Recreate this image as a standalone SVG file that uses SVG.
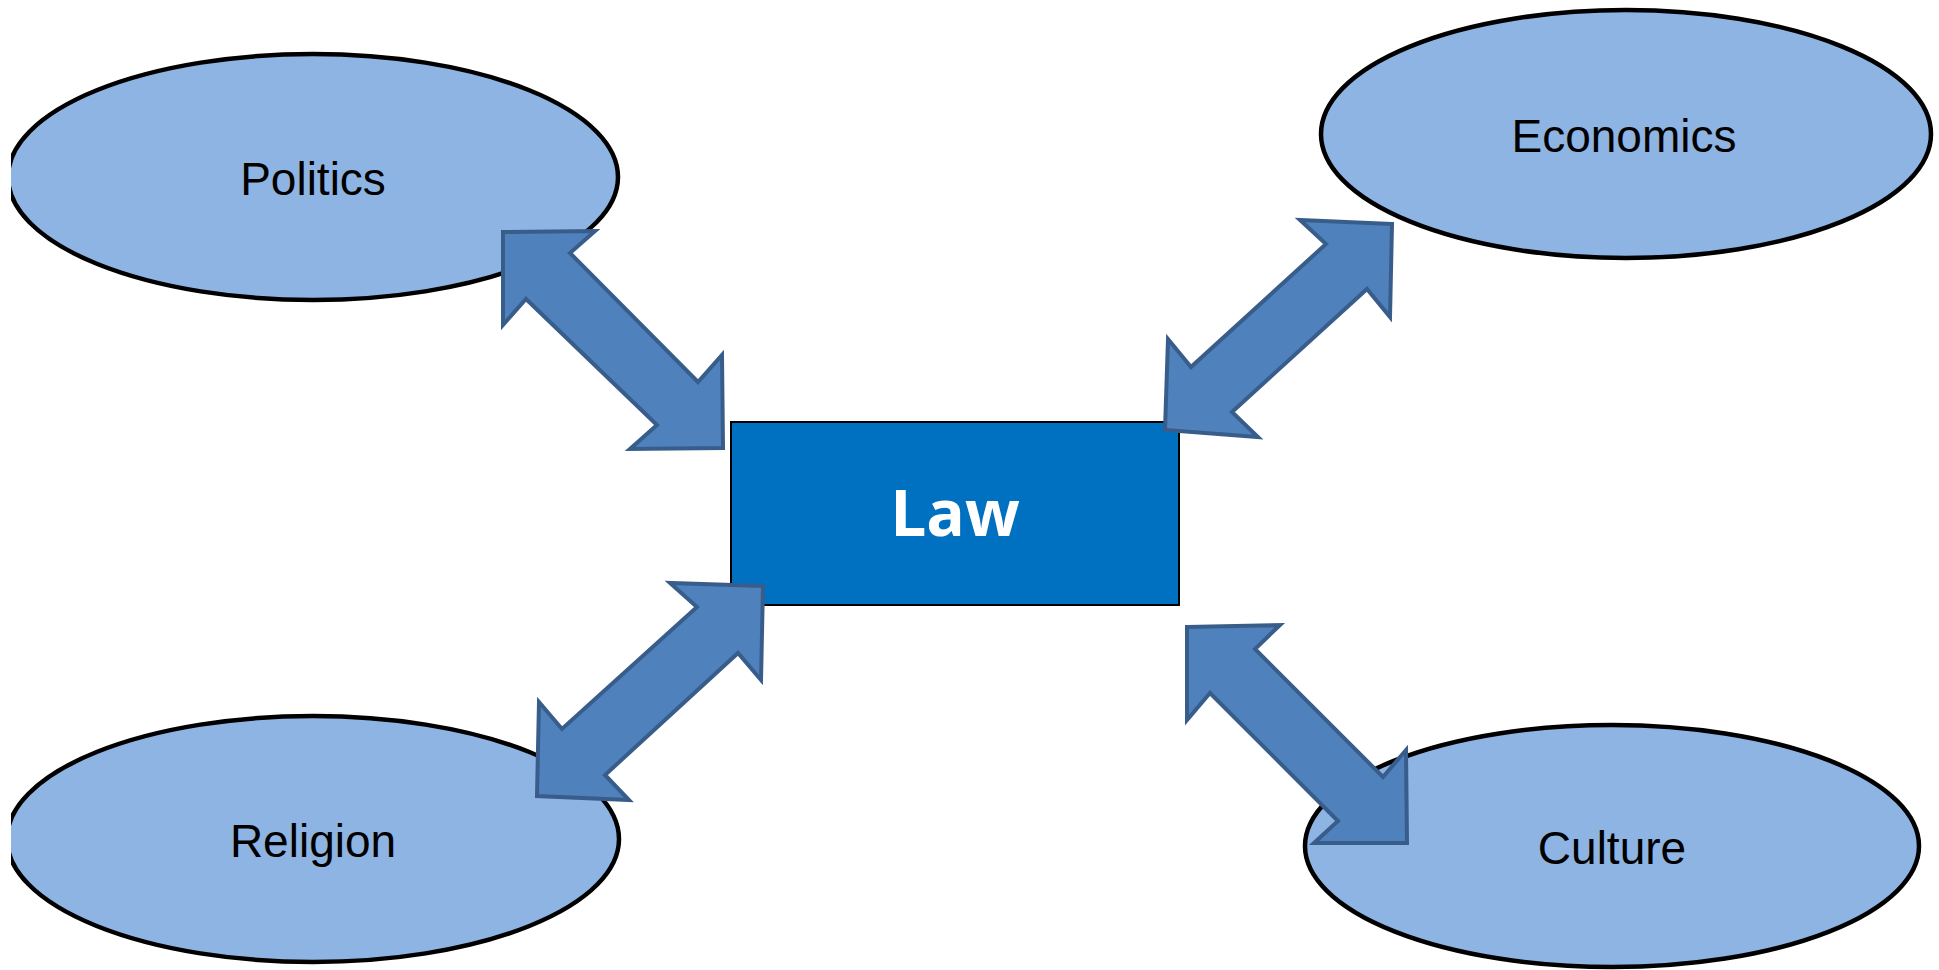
<svg xmlns="http://www.w3.org/2000/svg" width="1939" height="970" viewBox="0 0 1939 970">
<style>
.ell{fill:#8EB4E3;stroke:#000;stroke-width:4.5}
.lbl{font-family:"Liberation Sans",Arial,sans-serif;font-size:46px;fill:#000;text-anchor:middle}
.arr{fill:#4F81BD;stroke:#385D8A;stroke-width:4;stroke-linejoin:miter}
.law{fill:#0070C0;stroke:#000;stroke-width:2}
.lawt{font-family:"Open Sans","Liberation Sans",sans-serif;font-weight:bold;font-size:64px;fill:#fff;text-anchor:middle}
</style>
<defs>
<clipPath id="page"><rect x="11" y="0" width="1928" height="970"/></clipPath>
</defs>
<rect width="1939" height="970" fill="#fff"/>
<g clip-path="url(#page)">
<g id="politics">
<ellipse class="ell" cx="313" cy="177" rx="305" ry="123"/>
<text class="lbl" x="313" y="195">Politics</text>
</g>
<g id="economics">
<ellipse class="ell" cx="1626" cy="134" rx="305" ry="124"/>
<text class="lbl" x="1624" y="152">Economics</text>
</g>
<g id="religion">
<ellipse class="ell" cx="313" cy="839" rx="306" ry="123"/>
<text class="lbl" x="313" y="857">Religion</text>
</g>
<g id="culture">
<ellipse class="ell" cx="1612" cy="846" rx="307" ry="121"/>
<text class="lbl" x="1612" y="864">Culture</text>
</g>
<g id="law">
<rect class="law" x="731" y="422" width="448" height="183"/>
<text class="lawt" x="955" y="536">Law</text>
</g>
<g id="connectors">
<polygon class="arr" points="503,232 595,231 570,253 698,382 722,355 723,448 630,449 657,425 526,299 503,325"/>
<polygon class="arr" points="1392,224 1300,220 1326,244 1191,367 1168,339 1165,430 1258,437 1232,412 1367,289 1390,317"/>
<polygon class="arr" points="763,586 670,583 697,607 562,729 539,702 537,796 629,800 605,775 738,653 761,680"/>
<polygon class="arr" points="1187,627 1280,625 1255,649 1383,777 1406,750 1407,843 1314,843 1338,821 1210,693 1187,720"/>
</g>
</g>
</svg>
